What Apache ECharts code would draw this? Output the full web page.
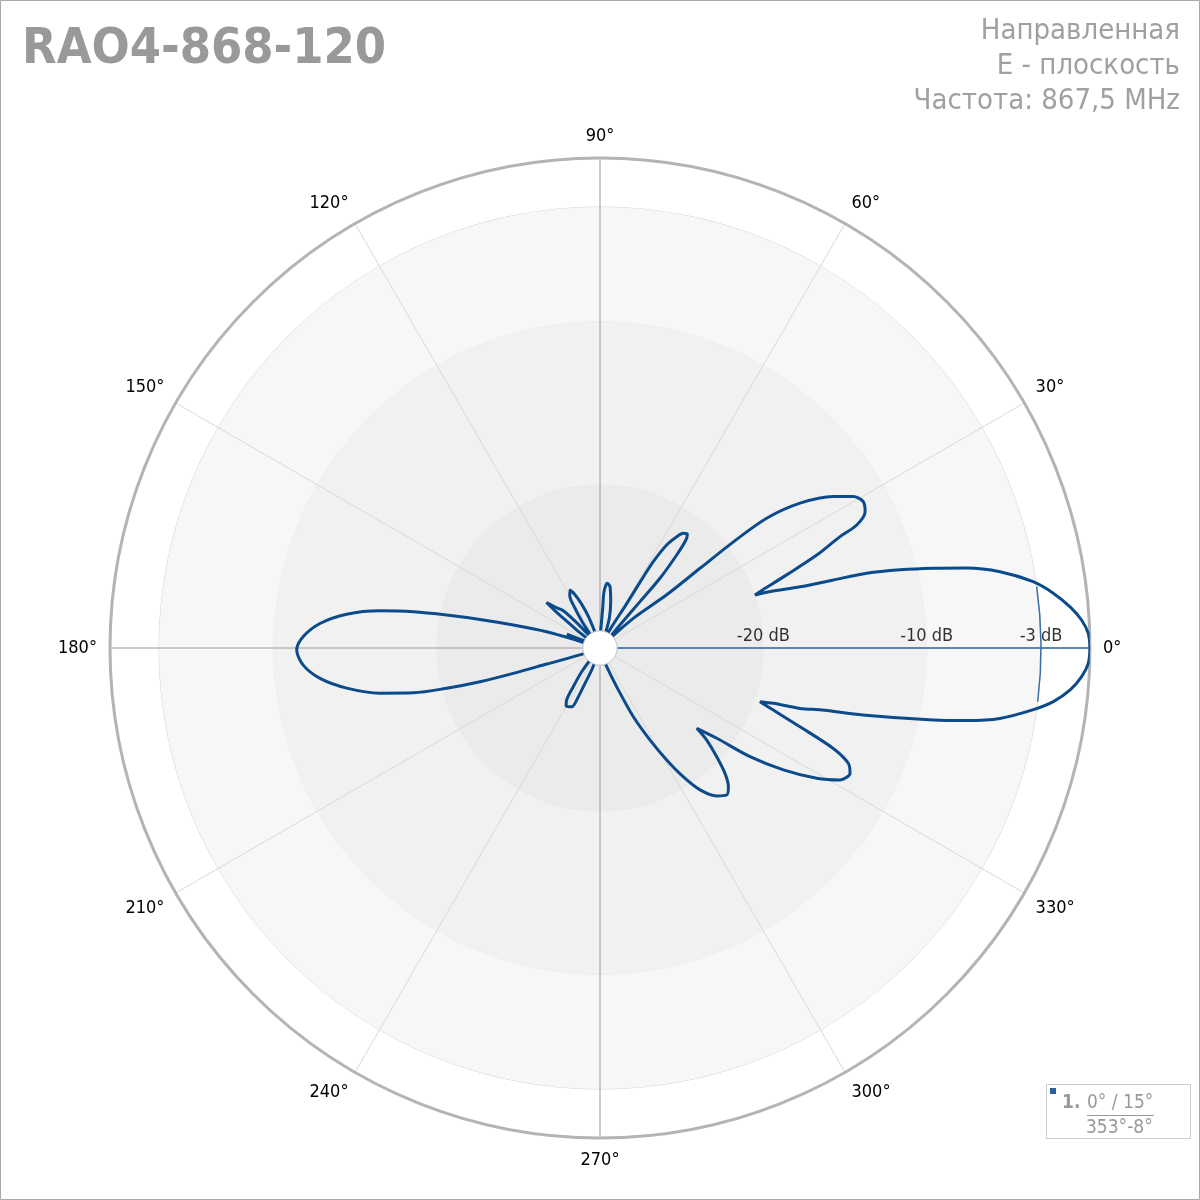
<!DOCTYPE html>
<html><head><meta charset="utf-8">
<script src="https://cdn.jsdelivr.net/npm/echarts@6/dist/echarts.min.js"></script>
<style>html,body{margin:0;padding:0;background:#fff}#c{width:1200px;height:1200px}</style>
</head><body><div id="c"></div>
<script>
// ---- data ----
const titleText = 'RAO4-868-120';
const infoLines = ['Направленная', 'E - плоскость', 'Частота: 867,5 MHz'];
const angleMin = 0, angleMax = 360, angleStep = 30;
const dbMin = -30, dbMax = 0;
const ringDb = [-20, -10, -3];
const holeDb = -28.95;
const beamCenter = 0, beamWidth = 15, beamFrom = 353, beamTo = 8, beamLevel = -3;
const patternAngle = [
  0, 1.7, 3.3, 5.0, 6.9, 8.7, 10.8, 12.3, 13.45, 14.6, 15.65, 16.25, 17.0, 18.3, 18.9,
  19.4, 21.4, 23.2, 24.9, 25.6, 27.2, 29.1, 30.9, 33.0, 35.9, 37.9, 38.5, 38.55, 38.6, 41.7, 44.5,
  48.0, 49.0, 49.2, 49.3, 50.5, 51.5, 52.5, 54.0, 55.4, 57.1, 58.3, 58.7, 59.0, 61.0, 65.0,
  70.0, 72.6, 77.0, 80.7, 83.6, 85.9, 86.1, 87.0, 90.0, 100,
  105, 110, 113, 115.5, 117.5, 120, 122, 124, 127,
  130, 132.5, 134.5, 137, 139.6, 140.5, 141, 142.5, 145,
  152, 155.5, 157.2, 158.5, 160,
  161.5, 163, 165.1, 166.6, 167.85, 169.0, 170.4, 172.4, 175.0, 177.8, 180.4, 183.3, 186.2, 189.0,
  191.6, 193.5, 194.7, 195.7, 196.3, 196.8, 199, 202, 215,
  228, 232.3, 235.4, 237.4, 239.6, 244.3, 246, 247, 249.3, 252, 270, 285,
  289.7, 293.3, 295.9, 298.5, 300.8, 302.9, 305.2, 308.3, 310.75, 312.8, 314.9, 317.0, 319.2, 320.3,
  322.3, 324.1, 326.4, 329.0, 331.2, 333.4, 335.1, 336.7, 338.5, 340.3, 341.45,
  342.3, 343.2, 344.4, 345.7, 347.8, 348.8, 350.0, 351.9, 353.25, 354.9, 356.6, 358.2, 360
];
const patternDb = [
  0, -0.09, -0.46, -1.11, -2.05, -3.17, -5.07, -7.02, -9.02, -11.02, -13.04, -15.12, -17.19, -19.0, -19.97,
  -19.62, -17.73, -15.56, -13.8, -12.57, -11.75, -11.56, -11.94, -12.97, -14.88, -17.07, -19.56, -22.17, -24.78, -27.27, -29.5,
  -29.0, -28.1, -26.25, -24.37, -22.62, -21.55, -21.22, -21.32, -21.72, -22.49, -23.79, -25.26, -26.9, -28.5, -29.6,
  -29.0, -28.1, -27.09, -26.2, -26.01, -26.55, -27.56, -28.6, -29.6, -30,
  -29.5, -28, -27, -26.3, -26.0, -26.3, -27, -28, -29.3,
  -29.5, -28, -26.8, -26.4, -25.7, -26.5, -27.2, -28.3, -29.5,
  -29.6, -29.0, -27.8, -29.0, -29.6,
  -28.5, -26.59, -24.51, -22.45, -20.4, -18.36, -16.34, -14.35, -12.79, -11.82, -11.43, -11.8, -12.76, -14.3,
  -16.25, -18.25, -20.3, -22.37, -24.47, -26.6, -28.7, -29.8, -30,
  -29.6, -28.2, -27.1, -26.2, -25.9, -26.0, -26.7, -27.65, -28.6, -29.7, -30, -29.7,
  -28.8, -27.4, -25.3, -23.6, -22.0, -20.6, -19.37, -18.46, -18.12, -18.43, -19.16, -20.23, -21.37, -22.3,
  -20.96, -18.66, -16.52, -14.52, -13.23, -12.88, -13.24, -14.45, -16.84, -18.73, -19.67,
  -18.86, -17.2, -15.9, -13.4, -9.12, -7.11, -5.14, -3.2, -2.05, -1.1, -0.46, -0.09, 0
];

// ---- chart ----
const FONT = '"DejaVu Sans Condensed", "DejaVu Sans"';
const center = [600, 648];
const outerR = 490;
const bandR = outerR * (ringDb[ringDb.length - 1] - dbMin) / (dbMax - dbMin);
const patternData = patternAngle.map((a, i) => [patternDb[i], a]);
const chart = echarts.init(document.getElementById('c'), null, {renderer: 'canvas'});

const option = {
  animation: false,
  backgroundColor: '#fff',
  polar: [
    {center: center, radius: outerR},
    {center: center, radius: bandR}
  ],
  angleAxis: [
    {
      polarIndex: 0, type: 'value', min: angleMin, max: angleMax, interval: angleStep,
      startAngle: 0, clockwise: false, z: 1,
      axisLine: {show: true, lineStyle: {color: '#b4b4b4', width: 3}},
      axisTick: {show: false},
      axisLabel: {margin: 13, color: '#000', fontSize: 18, fontFamily: FONT,
        formatter: v => (v >= angleMax ? '' : v + '°')},
      splitLine: {show: true, lineStyle: {color: ['#9a9a9a', '#d9d9d9', '#d9d9d9'], width: 1}}
    },
    {polarIndex: 1, type: 'value', min: angleMin, max: angleMax, startAngle: 0, clockwise: false, show: false}
  ],
  radiusAxis: [
    {polarIndex: 0, type: 'value', min: dbMin, max: dbMax,
      axisLine: {show: false}, axisTick: {show: false}, axisLabel: {show: false}, splitLine: {show: false}},
    {polarIndex: 1, type: 'value', min: dbMin, max: ringDb[ringDb.length - 1], interval: 10, z: 0,
      axisLine: {show: false}, axisTick: {show: false}, axisLabel: {show: false},
      splitLine: {show: true, lineStyle: {color: '#d2d2d2', width: 1}},
      splitArea: {show: true, areaStyle: {color: ['#ebebeb', '#f1f1f1', '#f7f7f7']}}}
  ],
  series: [
    {
      type: 'line', coordinateSystem: 'polar', polarIndex: 0, z: 3,
      data: [[dbMin, beamCenter], [dbMax, beamCenter]],
      symbol: 'none', silent: true,
      lineStyle: {color: '#3b6ea8', width: 1.5}
    },
    {
      type: 'custom', coordinateSystem: 'polar', polarIndex: 0, z: 3, silent: true,
      data: [[beamLevel, beamFrom, beamTo]],
      renderItem: (params, api) => {
        const c = api.coord([dbMin, 0]);
        const p = api.coord([api.value(0), 0]);
        const r = Math.hypot(p[0] - c[0], p[1] - c[1]);
        const a0 = api.value(1) - 360, a1 = api.value(2);
        return {type: 'arc', shape: {cx: c[0], cy: c[1], r: r,
          startAngle: -a1 * Math.PI / 180, endAngle: -a0 * Math.PI / 180, clockwise: true},
          style: {stroke: '#3b6ea8', lineWidth: 1.5, fill: null}};
      }
    },
    {
      type: 'line', coordinateSystem: 'polar', polarIndex: 0, z: 5,
      data: patternData, symbol: 'none', smooth: 0.3, silent: true,
      lineStyle: {color: '#0b4a8b', width: 3}
    },
    {
      type: 'scatter', coordinateSystem: 'polar', polarIndex: 0, z: 6, silent: true,
      data: ringDb.map(v => [v, beamCenter]), symbolSize: 0,
      label: {show: true, position: 'top', distance: 3, color: '#000', fontSize: 18, fontFamily: FONT,
        formatter: p => p.value[0] + ' dB'}
    },
    {
      type: 'custom', coordinateSystem: 'polar', polarIndex: 0, z: 10, silent: true,
      data: [[holeDb]],
      renderItem: (params, api) => {
        const c = api.coord([dbMin, 0]);
        const p = api.coord([api.value(0), 0]);
        const r = Math.hypot(p[0] - c[0], p[1] - c[1]);
        return {type: 'circle', shape: {cx: c[0], cy: c[1], r: r},
          style: {fill: '#fff', stroke: '#c4c4c4', lineWidth: 1}};
      }
    }
  ],
  graphic: [
    {type: 'rect', shape: {x: 0.5, y: 0.5, width: 1199, height: 1199}, style: {fill: null, stroke: '#a8a8a8', lineWidth: 1}, z: 100},
    {type: 'text', x: 22, y: 50, style: {text: titleText, font: 'bold 50px ' + FONT, fill: '#999999', align: 'left', verticalAlign: 'middle'}},
    {type: 'text', x: 1180, y: 31, style: {text: infoLines[0], font: '29px ' + FONT, fill: '#a0a0a0', align: 'right', verticalAlign: 'middle'}},
    {type: 'text', x: 1180, y: 66, style: {text: infoLines[1], font: '29px ' + FONT, fill: '#a0a0a0', align: 'right', verticalAlign: 'middle'}},
    {type: 'text', x: 1180, y: 101, style: {text: infoLines[2], font: '29px ' + FONT, fill: '#a0a0a0', align: 'right', verticalAlign: 'middle'}},
    {type: 'group', x: 1046, y: 1084, children: [
      {type: 'rect', shape: {x: 0.5, y: 0.5, width: 144, height: 54}, style: {fill: '#fff', stroke: '#cccccc', lineWidth: 1}},
      {type: 'rect', shape: {x: 4, y: 4, width: 6, height: 6}, style: {fill: '#2d5f9a'}},
      {type: 'text', x: 16, y: 19, style: {text: '1.', font: 'bold 19px ' + FONT, fill: '#999999', verticalAlign: 'middle'}},
      {type: 'text', x: 41, y: 19, style: {text: beamCenter + '° / ' + beamWidth + '°', font: '19px ' + FONT, fill: '#999999', verticalAlign: 'middle'}},
      {type: 'line', shape: {x1: 41, y1: 31.5, x2: 108, y2: 31.5}, style: {stroke: '#999999', lineWidth: 1}},
      {type: 'text', x: 40, y: 44, style: {text: beamFrom + '°-' + beamTo + '°', font: '19px ' + FONT, fill: '#999999', verticalAlign: 'middle'}}
    ]}
  ]
};
chart.setOption(option);
</script></body></html>
